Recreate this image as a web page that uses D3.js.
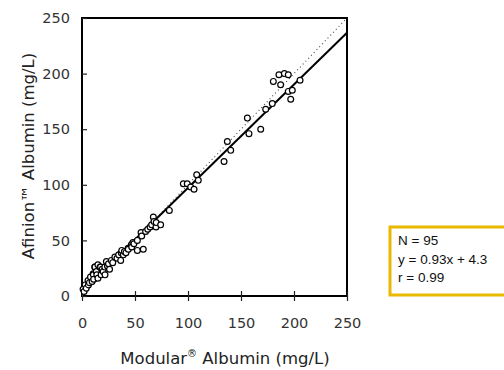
<!DOCTYPE html>
<html>
<head>
<meta charset="utf-8">
<script src="https://cdn.jsdelivr.net/npm/d3@7"></script>
<style>
  body { margin: 0; background: #fff; }
  svg { display: block; }
</style>
</head>
<body>
<div id="chart"></div>
<script>
// Modular (x) vs Afinion (y) albumin, mg/L
const modular = [
  1, 2, 3, 4, 5.7, 6, 7, 8, 9.5, 10.5, 10.7, 11, 12, 12.3, 13.5, 14, 15, 15, 17, 17.5, 18, 19, 20, 21.5, 21.7,
  23, 24, 25, 26, 27.7, 29, 31, 33, 34.6, 36.5, 37, 37.5, 39, 40, 41.5, 43.5, 43.7, 46.5, 46.9, 48, 49,
  52.2, 52.2, 55.7, 56.3, 57.8, 60, 62, 64.2, 65.7, 67.3, 67.9, 69.8, 70, 74.2, 82.4,
  95.6, 99.3, 102.5, 105.7, 108.2, 109.7, 134, 137.1, 140.3, 156, 157.5, 168.6,
  173.3, 179.5, 180.5, 185.8, 187.4, 190.9, 194.6, 194.6, 196.9, 198.4, 205.7
];
const afinion = [
  6, 4, 10, 7, 14, 10, 12, 17, 13, 20, 19, 15, 26, 26, 22, 19, 28, 16, 26, 26, 19, 24, 22, 26, 19,
  31, 27, 29, 24, 32, 30, 35, 34, 37, 32, 39, 41, 37, 40, 39, 43, 42, 46, 44, 48, 47,
  50, 41, 57, 54, 42, 58, 60, 62, 64, 71, 67, 62, 66, 64, 77,
  101, 101, 98, 96, 109, 104, 121, 139, 131, 160, 146, 150,
  168, 173, 193, 199, 190, 200, 199, 184, 177, 185, 194
];
const xTicks = [0, 50, 100, 150, 200, 250];
const yTicks = [0, 50, 100, 150, 200, 250];
const fit = { slope: 0.93, intercept: 4.3 };
const statsLines = ["N = 95", "y = 0.93x + 4.3", "r = 0.99"];

const width = 504, height = 370;
const margin = { top: 18, right: 157, bottom: 74, left: 82 };
const innerW = width - margin.left - margin.right,
      innerH = height - margin.top - margin.bottom;

const svg = d3.select("#chart").append("svg")
    .attr("width", width)
    .attr("height", height);

const g = svg.append("g")
    .attr("transform", `translate(${margin.left},${margin.top})`);

const x = d3.scaleLinear().domain([0, 250]).range([0, innerW]);
const y = d3.scaleLinear().domain([0, 250]).range([innerH, 0]);

const font = "'DejaVu Sans', Verdana, sans-serif";

// frame
g.append("rect")
    .attr("width", innerW)
    .attr("height", innerH)
    .attr("fill", "none")
    .attr("stroke", "#000")
    .attr("stroke-width", 2);

// axes
const xAxis = g.append("g")
    .attr("transform", `translate(0,${innerH})`)
    .call(d3.axisBottom(x).tickValues(xTicks).tickSize(5).tickPadding(17));
const yAxis = g.append("g")
    .call(d3.axisLeft(y).tickValues(yTicks).tickSize(4).tickPadding(8));

[xAxis, yAxis].forEach(a => {
  a.select(".domain").remove();
  a.selectAll(".tick line").attr("stroke", "#222").attr("stroke-width", 1.2);
  a.selectAll(".tick text")
      .style("font-family", font)
      .style("font-size", "14.5px")
      .attr("fill", "#333");
});
// ticks cross the axis lines
xAxis.selectAll(".tick line").attr("y1", -5);
yAxis.selectAll(".tick line").attr("x2", 5);

// identity line
g.append("line")
    .attr("x1", x(0)).attr("y1", y(0))
    .attr("x2", x(250)).attr("y2", y(250))
    .attr("stroke", "#444")
    .attr("stroke-width", 1.1)
    .attr("stroke-dasharray", "1,3");

// regression line
g.append("line")
    .attr("x1", x(0)).attr("y1", y(fit.intercept))
    .attr("x2", x(250)).attr("y2", y(fit.slope * 250 + fit.intercept))
    .attr("stroke", "#000")
    .attr("stroke-width", 2);

// points
g.selectAll("circle.pt")
  .data(modular.map((m, i) => [m, afinion[i]]))
  .enter().append("circle")
    .attr("class", "pt")
    .attr("cx", d => x(d[0]))
    .attr("cy", d => y(d[1]))
    .attr("r", 2.9)
    .attr("fill", "#fff")
    .attr("stroke", "#000")
    .attr("stroke-width", 1.2);

// axis titles
const xt = svg.append("text")
    .attr("x", 225)
    .attr("y", 364)
    .attr("text-anchor", "middle")
    .style("font-family", font)
    .style("font-size", "16.5px")
    .attr("fill", "#222");
xt.append("tspan").text("Modular");
xt.append("tspan").attr("dy", -7).style("font-size", "10px").text("®");
xt.append("tspan").attr("dy", 7).text(" Albumin (mg/L)");

svg.append("text")
    .attr("transform", "translate(34,156) rotate(-90)")
    .attr("text-anchor", "middle")
    .style("font-family", font)
    .style("font-size", "16.5px")
    .attr("fill", "#222")
    .text("Afinion™ Albumin (mg/L)");

// stats box
svg.append("rect")
    .attr("x", 390).attr("y", 227)
    .attr("width", 130).attr("height", 68)
    .attr("fill", "#fff")
    .attr("stroke", "#e9b800")
    .attr("stroke-width", 3);

svg.append("g").selectAll("text")
  .data(statsLines)
  .enter().append("text")
    .attr("x", 398)
    .attr("y", (d, i) => 245 + i * 18.5)
    .style("font-family", "'Liberation Sans', Arial, sans-serif")
    .style("font-size", "13.5px")
    .attr("fill", "#111")
    .text(d => d);
</script>
</body>
</html>
